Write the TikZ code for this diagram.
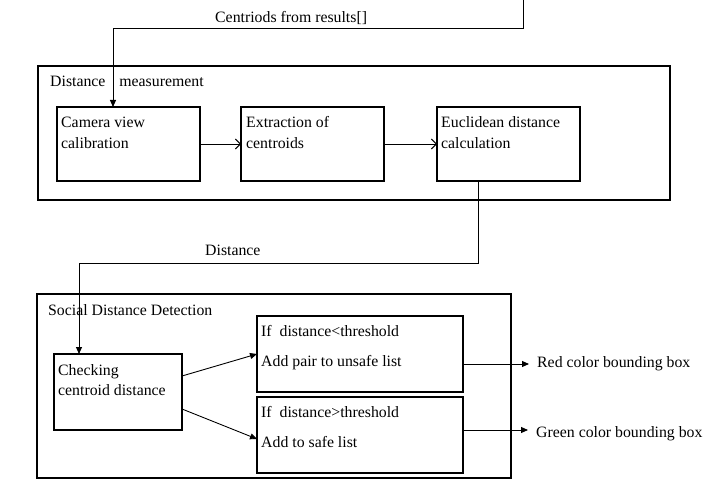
\documentclass[tikz,border=0pt]{standalone}
\usepackage{fontspec}
\setmainfont{Liberation Serif}
\usetikzlibrary{arrows.meta,calc}
\begin{document}
\begin{tikzpicture}[x=1pt,y=-1pt,
  frame/.style={draw,line width=1.8pt,anchor=north west,inner sep=0,outer sep=0},
  blk/.style={draw,line width=1.1pt,anchor=north west,inner sep=0,outer sep=0},
  txt/.style={anchor=base west,inner sep=0,font=\fontsize{15.8}{20}\selectfont},
  conn/.style={line width=0.9pt},
  fa/.style={-{Triangle[length=7pt,width=6pt]}},
  oa/.style={-{Straight Barb[length=5pt,width=10pt]}}]
\useasboundingbox (0,0) rectangle (717,500);
% frames
\node[frame,minimum width=632pt,minimum height=134pt] (dm) at (38,66) {};
\node[frame,minimum width=474pt,minimum height=184pt] (sdd) at (37,294) {};
% blocks
\node[blk,minimum width=143pt,minimum height=74pt] (cam) at (57,107) {};
\node[blk,minimum width=143pt,minimum height=74pt] (ext) at (241,107) {};
\node[blk,minimum width=143pt,minimum height=74pt] (euc) at (437,107) {};
\node[blk,minimum width=128pt,minimum height=76pt] (chk) at (54,354) {};
\node[blk,minimum width=206pt,minimum height=76pt] (up) at (257,316) {};
\node[blk,minimum width=206pt,minimum height=76pt] (lo) at (257,397) {};
% texts
\node[txt] (t1) at (215,23) {Centriods from results[]};
\node[txt] (t2) at (50,87) {Distance\hspace{10pt} measurement};
\node[txt] (t3a) at ($(cam.north west)+(4,21)$) {Camera view};
\node[txt] (t3b) at ($(cam.north west)+(4,41)$) {calibration};
\node[txt] (t4a) at ($(ext.north west)+(5,21)$) {Extraction of};
\node[txt] (t4b) at ($(ext.north west)+(5,41)$) {centroids};
\node[txt] (t5a) at ($(euc.north west)+(4,21)$) {Euclidean distance};
\node[txt] (t5b) at ($(euc.north west)+(4,41)$) {calculation};
\node[txt] (t6) at (205,255) {Distance};
\node[txt] (t7) at (48,315) {Social Distance Detection};
\node[txt] (t8a) at ($(chk.north west)+(4,21)$) {Checking};
\node[txt] (t8b) at ($(chk.north west)+(4,41)$) {centroid distance};
\node[txt] (t9a) at ($(up.north west)+(4,20)$) {If\ \ distance<threshold};
\node[txt] (t9b) at ($(up.north west)+(4,50)$) {Add pair to unsafe list};
\node[txt] (t10a) at ($(lo.north west)+(4,20)$) {If\ \ distance>threshold};
\node[txt] (t10b) at ($(lo.north west)+(4,50)$) {Add to safe list};
\node[txt] (red) at (537,367) {Red color bounding box};
\node[txt] (green) at (536,437) {Green color bounding box};
% connectors
\coordinate (src) at (523,0);
\draw[conn,fa] (src) |- (113,28) -- ($(cam.north west)+(56,0)$);
\draw[conn,oa] (cam.east) -- (ext.west);
\draw[conn,oa] (ext.east) -- (euc.west);
\draw[conn,fa] ($(euc.south west)+(41,0)$) -- ++(0,82) -| ($(chk.north west)+(25,0)$);
\draw[conn,fa] ($(chk.north east)+(0,22)$) -- ($(up.north west)+(0,38)$);
\draw[conn,fa] ($(chk.north east)+(0,55)$) -- ($(lo.north west)+(0,42)$);
\draw[conn,fa] ($(up.north east)+(0,48)$) -- ++(66,0);
\draw[conn,fa] ($(lo.north east)+(0,33)$) -- ++(65,0);
\end{tikzpicture}
\end{document}
